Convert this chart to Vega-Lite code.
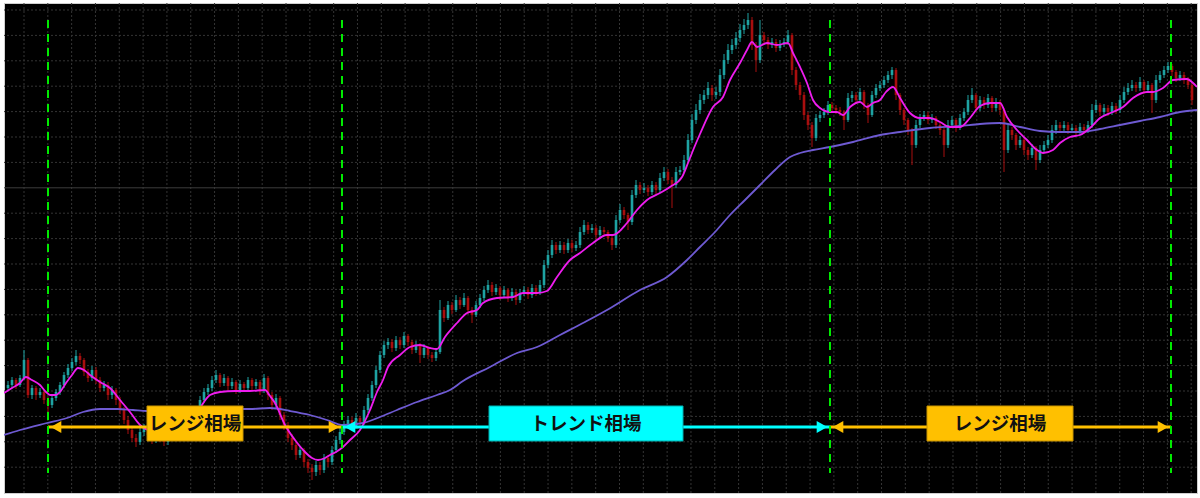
{
"$schema": "https://vega.github.io/schema/vega-lite/v6.json",
"width": 1193, "height": 490,
"autosize": {"type": "none"},
"padding": {"left": 4, "top": 3, "right": 3, "bottom": 5},
"background": "#ffffff",
"config": {"view": {"fill": "#000000", "stroke": "#cfcfcf", "strokeWidth": 1}},
"datasets": {
"candles": [
{"i":1,"o":112,"h":119,"l":109,"c":115},{"i":2,"o":115,"h":123,"l":112,"c":120},{"i":3,"o":120,"h":122,"l":111,"c":115},{"i":4,"o":115,"h":125,"l":113,"c":122},{"i":5,"o":122,"h":150,"l":120,"c":140},{"i":6,"o":140,"h":142,"l":102,"c":105},{"i":7,"o":105,"h":115,"l":101,"c":112},{"i":8,"o":112,"h":114,"l":100,"c":105},{"i":9,"o":105,"h":112,"l":102,"c":108},{"i":10,"o":108,"h":110,"l":96,"c":100},
{"i":11,"o":100,"h":103,"l":88,"c":95},{"i":12,"o":95,"h":106,"l":92,"c":102},{"i":13,"o":102,"h":111,"l":99,"c":108},{"i":14,"o":108,"h":118,"l":105,"c":115},{"i":15,"o":115,"h":128,"l":112,"c":125},{"i":16,"o":125,"h":136,"l":122,"c":132},{"i":17,"o":132,"h":142,"l":129,"c":138},{"i":18,"o":138,"h":150,"l":135,"c":144},{"i":19,"o":144,"h":147,"l":136,"c":140},{"i":20,"o":140,"h":142,"l":124,"c":128},
{"i":21,"o":128,"h":131,"l":118,"c":122},{"i":22,"o":122,"h":134,"l":119,"c":130},{"i":23,"o":130,"h":133,"l":116,"c":120},{"i":24,"o":120,"h":123,"l":108,"c":112},{"i":25,"o":112,"h":119,"l":109,"c":115},{"i":26,"o":115,"h":118,"l":100,"c":105},{"i":27,"o":105,"h":114,"l":101,"c":110},{"i":28,"o":110,"h":112,"l":95,"c":100},{"i":29,"o":100,"h":103,"l":86,"c":90},{"i":30,"o":90,"h":93,"l":76,"c":80},
{"i":31,"o":80,"h":84,"l":66,"c":70},{"i":32,"o":70,"h":74,"l":58,"c":62},{"i":33,"o":62,"h":66,"l":53,"c":58},{"i":34,"o":58,"h":72,"l":55,"c":68},{"i":35,"o":68,"h":76,"l":64,"c":72},{"i":36,"o":72,"h":75,"l":61,"c":65},{"i":37,"o":65,"h":68,"l":56,"c":60},{"i":38,"o":60,"h":74,"l":57,"c":70},{"i":39,"o":70,"h":73,"l":58,"c":62},{"i":40,"o":62,"h":65,"l":54,"c":58},
{"i":41,"o":58,"h":68,"l":55,"c":64},{"i":42,"o":64,"h":76,"l":61,"c":72},{"i":43,"o":72,"h":75,"l":62,"c":65},{"i":44,"o":65,"h":79,"l":62,"c":75},{"i":45,"o":75,"h":78,"l":66,"c":70},{"i":46,"o":70,"h":86,"l":67,"c":82},{"i":47,"o":82,"h":85,"l":76,"c":80},{"i":48,"o":80,"h":94,"l":77,"c":90},{"i":49,"o":90,"h":104,"l":87,"c":100},{"i":50,"o":100,"h":112,"l":97,"c":108},
{"i":51,"o":108,"h":116,"l":105,"c":112},{"i":52,"o":112,"h":124,"l":109,"c":120},{"i":53,"o":120,"h":130,"l":117,"c":125},{"i":54,"o":125,"h":127,"l":113,"c":117},{"i":55,"o":117,"h":126,"l":114,"c":122},{"i":56,"o":122,"h":124,"l":110,"c":114},{"i":57,"o":114,"h":122,"l":111,"c":118},{"i":58,"o":118,"h":120,"l":106,"c":110},{"i":59,"o":110,"h":120,"l":107,"c":116},{"i":60,"o":116,"h":118,"l":108,"c":112},
{"i":61,"o":112,"h":123,"l":109,"c":120},{"i":62,"o":120,"h":122,"l":110,"c":114},{"i":63,"o":114,"h":121,"l":111,"c":118},{"i":64,"o":118,"h":120,"l":105,"c":110},{"i":65,"o":110,"h":126,"l":107,"c":122},{"i":66,"o":122,"h":124,"l":100,"c":105},{"i":67,"o":105,"h":108,"l":90,"c":95},{"i":68,"o":95,"h":106,"l":92,"c":102},{"i":69,"o":102,"h":104,"l":80,"c":85},{"i":70,"o":85,"h":88,"l":70,"c":75},
{"i":71,"o":75,"h":78,"l":58,"c":62},{"i":72,"o":62,"h":66,"l":50,"c":55},{"i":73,"o":55,"h":58,"l":40,"c":45},{"i":74,"o":45,"h":54,"l":42,"c":50},{"i":75,"o":50,"h":52,"l":33,"c":38},{"i":76,"o":38,"h":41,"l":27,"c":32},{"i":77,"o":32,"h":36,"l":20,"c":28},{"i":78,"o":28,"h":39,"l":24,"c":35},{"i":79,"o":35,"h":38,"l":25,"c":30},{"i":80,"o":30,"h":46,"l":27,"c":42},
{"i":81,"o":42,"h":45,"l":33,"c":38},{"i":82,"o":38,"h":54,"l":35,"c":50},{"i":83,"o":50,"h":64,"l":47,"c":60},{"i":84,"o":60,"h":72,"l":56,"c":68},{"i":85,"o":68,"h":79,"l":65,"c":75},{"i":86,"o":75,"h":84,"l":72,"c":80},{"i":87,"o":80,"h":83,"l":70,"c":74},{"i":88,"o":74,"h":87,"l":71,"c":82},{"i":89,"o":82,"h":84,"l":74,"c":78},{"i":90,"o":78,"h":94,"l":75,"c":90},
{"i":91,"o":90,"h":106,"l":87,"c":102},{"i":92,"o":102,"h":119,"l":99,"c":115},{"i":93,"o":115,"h":134,"l":112,"c":130},{"i":94,"o":130,"h":149,"l":127,"c":145},{"i":95,"o":145,"h":159,"l":142,"c":155},{"i":96,"o":155,"h":162,"l":151,"c":158},{"i":97,"o":158,"h":161,"l":148,"c":152},{"i":98,"o":152,"h":164,"l":149,"c":160},{"i":99,"o":160,"h":163,"l":151,"c":155},{"i":100,"o":155,"h":168,"l":152,"c":164},
{"i":101,"o":164,"h":166,"l":154,"c":158},{"i":102,"o":158,"h":160,"l":146,"c":150},{"i":103,"o":150,"h":159,"l":147,"c":155},{"i":104,"o":155,"h":157,"l":137,"c":145},{"i":105,"o":145,"h":156,"l":142,"c":152},{"i":106,"o":152,"h":154,"l":141,"c":145},{"i":107,"o":145,"h":148,"l":138,"c":142},{"i":108,"o":142,"h":152,"l":139,"c":148},{"i":109,"o":148,"h":200,"l":146,"c":190},{"i":110,"o":190,"h":193,"l":178,"c":182},
{"i":111,"o":182,"h":199,"l":180,"c":195},{"i":112,"o":195,"h":198,"l":186,"c":190},{"i":113,"o":190,"h":205,"l":188,"c":200},{"i":114,"o":200,"h":203,"l":191,"c":195},{"i":115,"o":195,"h":207,"l":193,"c":202},{"i":116,"o":202,"h":204,"l":186,"c":190},{"i":117,"o":190,"h":193,"l":177,"c":185},{"i":118,"o":185,"h":199,"l":183,"c":195},{"i":119,"o":195,"h":206,"l":192,"c":202},{"i":120,"o":202,"h":214,"l":199,"c":210},
{"i":121,"o":210,"h":220,"l":207,"c":215},{"i":122,"o":215,"h":218,"l":204,"c":208},{"i":123,"o":208,"h":216,"l":205,"c":212},{"i":124,"o":212,"h":214,"l":200,"c":205},{"i":125,"o":205,"h":214,"l":202,"c":210},{"i":126,"o":210,"h":212,"l":198,"c":202},{"i":127,"o":202,"h":212,"l":199,"c":208},{"i":128,"o":208,"h":210,"l":195,"c":200},{"i":129,"o":200,"h":211,"l":197,"c":207},{"i":130,"o":207,"h":214,"l":204,"c":210},
{"i":131,"o":210,"h":213,"l":201,"c":205},{"i":132,"o":205,"h":216,"l":202,"c":212},{"i":133,"o":212,"h":215,"l":204,"c":208},{"i":134,"o":208,"h":220,"l":205,"c":215},{"i":135,"o":215,"h":240,"l":212,"c":235},{"i":136,"o":235,"h":250,"l":232,"c":245},{"i":137,"o":245,"h":260,"l":242,"c":255},{"i":138,"o":255,"h":258,"l":246,"c":250},{"i":139,"o":250,"h":259,"l":247,"c":255},{"i":140,"o":255,"h":258,"l":246,"c":250},
{"i":141,"o":250,"h":261,"l":247,"c":257},{"i":142,"o":257,"h":260,"l":248,"c":252},{"i":143,"o":252,"h":259,"l":249,"c":255},{"i":144,"o":255,"h":273,"l":252,"c":268},{"i":145,"o":268,"h":280,"l":265,"c":275},{"i":146,"o":275,"h":278,"l":266,"c":270},{"i":147,"o":270,"h":276,"l":267,"c":272},{"i":148,"o":272,"h":275,"l":261,"c":265},{"i":149,"o":265,"h":274,"l":262,"c":270},{"i":150,"o":270,"h":273,"l":264,"c":268},
{"i":151,"o":268,"h":270,"l":258,"c":262},{"i":152,"o":262,"h":265,"l":250,"c":255},{"i":153,"o":255,"h":285,"l":252,"c":280},{"i":154,"o":280,"h":296,"l":277,"c":290},{"i":155,"o":290,"h":293,"l":281,"c":285},{"i":156,"o":285,"h":287,"l":270,"c":278},{"i":157,"o":278,"h":310,"l":275,"c":305},{"i":158,"o":305,"h":320,"l":302,"c":315},{"i":159,"o":315,"h":318,"l":306,"c":310},{"i":160,"o":310,"h":317,"l":307,"c":312},
{"i":161,"o":312,"h":315,"l":304,"c":308},{"i":162,"o":308,"h":319,"l":305,"c":315},{"i":163,"o":315,"h":318,"l":306,"c":310},{"i":164,"o":310,"h":327,"l":307,"c":322},{"i":165,"o":322,"h":333,"l":319,"c":328},{"i":166,"o":328,"h":331,"l":316,"c":320},{"i":167,"o":320,"h":323,"l":292,"c":315},{"i":168,"o":315,"h":333,"l":312,"c":328},{"i":169,"o":328,"h":334,"l":325,"c":330},{"i":170,"o":330,"h":345,"l":327,"c":340},
{"i":171,"o":340,"h":366,"l":337,"c":360},{"i":172,"o":360,"h":386,"l":357,"c":380},{"i":173,"o":380,"h":396,"l":376,"c":390},{"i":174,"o":390,"h":406,"l":386,"c":400},{"i":175,"o":400,"h":410,"l":396,"c":405},{"i":176,"o":405,"h":418,"l":401,"c":412},{"i":177,"o":412,"h":415,"l":399,"c":405},{"i":178,"o":405,"h":413,"l":401,"c":408},{"i":179,"o":408,"h":431,"l":404,"c":425},{"i":180,"o":425,"h":446,"l":421,"c":440},
{"i":181,"o":440,"h":456,"l":436,"c":450},{"i":182,"o":450,"h":461,"l":446,"c":455},{"i":183,"o":455,"h":468,"l":451,"c":462},{"i":184,"o":462,"h":476,"l":458,"c":470},{"i":185,"o":470,"h":481,"l":466,"c":475},{"i":186,"o":475,"h":487,"l":471,"c":480},{"i":187,"o":480,"h":483,"l":450,"c":455},{"i":188,"o":455,"h":458,"l":428,"c":440},{"i":189,"o":440,"h":480,"l":437,"c":465},{"i":190,"o":465,"h":468,"l":455,"c":460},
{"i":191,"o":460,"h":463,"l":451,"c":455},{"i":192,"o":455,"h":462,"l":452,"c":458},{"i":193,"o":458,"h":461,"l":448,"c":452},{"i":194,"o":452,"h":460,"l":449,"c":456},{"i":195,"o":456,"h":462,"l":453,"c":458},{"i":196,"o":458,"h":470,"l":455,"c":465},{"i":197,"o":465,"h":467,"l":425,"c":430},{"i":198,"o":430,"h":433,"l":410,"c":415},{"i":199,"o":415,"h":418,"l":400,"c":405},{"i":200,"o":405,"h":408,"l":380,"c":385},
{"i":201,"o":385,"h":388,"l":370,"c":375},{"i":202,"o":375,"h":378,"l":353,"c":362},{"i":203,"o":362,"h":386,"l":359,"c":382},{"i":204,"o":382,"h":389,"l":378,"c":385},{"i":205,"o":385,"h":392,"l":382,"c":388},{"i":206,"o":388,"h":399,"l":385,"c":395},{"i":207,"o":395,"h":398,"l":388,"c":392},{"i":208,"o":392,"h":395,"l":386,"c":390},{"i":209,"o":390,"h":393,"l":384,"c":388},{"i":210,"o":388,"h":390,"l":370,"c":380},
{"i":211,"o":380,"h":407,"l":378,"c":402},{"i":212,"o":402,"h":409,"l":398,"c":405},{"i":213,"o":405,"h":408,"l":396,"c":400},{"i":214,"o":400,"h":412,"l":397,"c":408},{"i":215,"o":408,"h":410,"l":391,"c":395},{"i":216,"o":395,"h":397,"l":377,"c":385},{"i":217,"o":385,"h":409,"l":383,"c":405},{"i":218,"o":405,"h":416,"l":402,"c":412},{"i":219,"o":412,"h":419,"l":409,"c":415},{"i":220,"o":415,"h":424,"l":412,"c":420},
{"i":221,"o":420,"h":429,"l":417,"c":425},{"i":222,"o":425,"h":433,"l":421,"c":430},{"i":223,"o":430,"h":432,"l":400,"c":405},{"i":224,"o":405,"h":407,"l":385,"c":390},{"i":225,"o":390,"h":392,"l":375,"c":380},{"i":226,"o":380,"h":382,"l":365,"c":370},{"i":227,"o":370,"h":372,"l":335,"c":355},{"i":228,"o":355,"h":380,"l":352,"c":375},{"i":229,"o":375,"h":386,"l":372,"c":382},{"i":230,"o":382,"h":389,"l":379,"c":385},
{"i":231,"o":385,"h":388,"l":376,"c":380},{"i":232,"o":380,"h":386,"l":377,"c":382},{"i":233,"o":382,"h":384,"l":371,"c":375},{"i":234,"o":375,"h":378,"l":365,"c":370},{"i":235,"o":370,"h":372,"l":343,"c":355},{"i":236,"o":355,"h":380,"l":352,"c":375},{"i":237,"o":375,"h":384,"l":372,"c":380},{"i":238,"o":380,"h":382,"l":368,"c":372},{"i":239,"o":372,"h":386,"l":370,"c":382},{"i":240,"o":382,"h":392,"l":379,"c":388},
{"i":241,"o":388,"h":405,"l":385,"c":400},{"i":242,"o":400,"h":412,"l":397,"c":405},{"i":243,"o":405,"h":407,"l":388,"c":392},{"i":244,"o":392,"h":404,"l":389,"c":400},{"i":245,"o":400,"h":403,"l":391,"c":395},{"i":246,"o":395,"h":406,"l":392,"c":402},{"i":247,"o":402,"h":404,"l":388,"c":392},{"i":248,"o":392,"h":402,"l":389,"c":398},{"i":249,"o":398,"h":400,"l":385,"c":390},{"i":250,"o":390,"h":392,"l":328,"c":350},
{"i":251,"o":350,"h":375,"l":347,"c":370},{"i":252,"o":370,"h":373,"l":360,"c":365},{"i":253,"o":365,"h":367,"l":350,"c":355},{"i":254,"o":355,"h":364,"l":352,"c":360},{"i":255,"o":360,"h":362,"l":345,"c":350},{"i":256,"o":350,"h":353,"l":340,"c":345},{"i":257,"o":345,"h":356,"l":342,"c":352},{"i":258,"o":352,"h":354,"l":330,"c":340},{"i":259,"o":340,"h":355,"l":337,"c":350},{"i":260,"o":350,"h":359,"l":347,"c":355},
{"i":261,"o":355,"h":365,"l":352,"c":360},{"i":262,"o":360,"h":375,"l":357,"c":370},{"i":263,"o":370,"h":380,"l":366,"c":375},{"i":264,"o":375,"h":378,"l":368,"c":372},{"i":265,"o":372,"h":379,"l":369,"c":375},{"i":266,"o":375,"h":378,"l":366,"c":370},{"i":267,"o":370,"h":376,"l":367,"c":372},{"i":268,"o":372,"h":375,"l":364,"c":368},{"i":269,"o":368,"h":377,"l":365,"c":373},{"i":270,"o":373,"h":376,"l":366,"c":370},
{"i":271,"o":370,"h":379,"l":367,"c":375},{"i":272,"o":375,"h":396,"l":372,"c":390},{"i":273,"o":390,"h":400,"l":387,"c":395},{"i":274,"o":395,"h":397,"l":384,"c":388},{"i":275,"o":388,"h":396,"l":385,"c":392},{"i":276,"o":392,"h":395,"l":384,"c":388},{"i":277,"o":388,"h":398,"l":385,"c":394},{"i":278,"o":394,"h":397,"l":386,"c":390},{"i":279,"o":390,"h":405,"l":387,"c":400},{"i":280,"o":400,"h":413,"l":397,"c":408},
{"i":281,"o":408,"h":417,"l":405,"c":412},{"i":282,"o":412,"h":420,"l":409,"c":415},{"i":283,"o":415,"h":418,"l":408,"c":412},{"i":284,"o":412,"h":423,"l":409,"c":418},{"i":285,"o":418,"h":420,"l":406,"c":410},{"i":286,"o":410,"h":419,"l":407,"c":415},{"i":287,"o":415,"h":417,"l":387,"c":400},{"i":288,"o":400,"h":425,"l":397,"c":420},{"i":289,"o":420,"h":429,"l":417,"c":425},{"i":290,"o":425,"h":434,"l":422,"c":430},
{"i":291,"o":430,"h":438,"l":427,"c":434},{"i":292,"o":434,"h":436,"l":424,"c":428},{"i":293,"o":428,"h":430,"l":418,"c":422},{"i":294,"o":422,"h":429,"l":419,"c":425},{"i":295,"o":425,"h":428,"l":416,"c":420},{"i":296,"o":420,"h":423,"l":411,"c":415},{"i":297,"o":415,"h":418,"l":395,"c":400}
],
"ma": [
{"i":0,"p":107},{"i":2,"p":112},{"i":4,"p":117},{"i":5.5,"p":123},{"i":7,"p":120},{"i":9,"p":115},{"i":10.5,"p":108},{"i":11.5,"p":105},{"i":13,"p":105},{"i":14,"p":108},{"i":15.5,"p":117},{"i":17,"p":125},{"i":18.5,"p":132},{"i":20,"p":130},{"i":21.5,"p":125},{"i":24,"p":118},{"i":26.5,"p":112},{"i":29,"p":100},{"i":31.5,"p":88},{"i":34,"p":75},{"i":36.5,"p":70},{"i":39,"p":72},{"i":41.5,"p":70},{"i":44,"p":72},{"i":46,"p":76},{"i":47.75,"p":82},{"i":49.5,"p":95},{"i":51.5,"p":105},{"i":54,"p":108},{"i":57.75,"p":109},{"i":61.5,"p":109},{"i":65.25,"p":110},{"i":66.5,"p":104},{"i":67.75,"p":97},{"i":70.25,"p":75},{"i":72.75,"p":60},{"i":75.25,"p":48},{"i":77,"p":42},{"i":78.5,"p":40},{"i":80.25,"p":42},{"i":81.5,"p":45},{"i":83,"p":48},{"i":84.75,"p":53},{"i":86.5,"p":60},{"i":89,"p":70},{"i":91.5,"p":90},{"i":93.25,"p":108},{"i":94.75,"p":120},{"i":96,"p":133},{"i":99,"p":145},{"i":101.5,"p":153},{"i":104,"p":155},{"i":106.5,"p":152},{"i":108.25,"p":151},{"i":110.25,"p":163},{"i":113.25,"p":177},{"i":115.75,"p":187},{"i":118.25,"p":190},{"i":119.75,"p":197},{"i":123.25,"p":202},{"i":127.25,"p":203},{"i":129.75,"p":207},{"i":133.25,"p":207},{"i":135.75,"p":209},{"i":138.25,"p":223},{"i":141.5,"p":240},{"i":144,"p":247},{"i":147.25,"p":257},{"i":150.75,"p":265},{"i":152.25,"p":265},{"i":155.75,"p":277},{"i":158.25,"p":290},{"i":160.75,"p":300},{"i":164,"p":307},{"i":166.5,"p":313},{"i":169.5,"p":323},{"i":171,"p":337},{"i":172.5,"p":352},{"i":174,"p":366},{"i":177.25,"p":393},{"i":179.75,"p":403},{"i":181.5,"p":420},{"i":184,"p":437},{"i":185.75,"p":450},{"i":187,"p":458},{"i":188.25,"p":453},{"i":190.75,"p":457},{"i":193.25,"p":455},{"i":196,"p":457},{"i":197.25,"p":447},{"i":199,"p":433},{"i":200.75,"p":417},{"i":202.25,"p":400},{"i":204,"p":392},{"i":206.5,"p":388},{"i":208.25,"p":388},{"i":209.75,"p":385},{"i":211.5,"p":393},{"i":214,"p":398},{"i":215.75,"p":393},{"i":217.25,"p":397},{"i":219,"p":400},{"i":220.5,"p":408},{"i":222.25,"p":413},{"i":224,"p":402},{"i":226.5,"p":387},{"i":229,"p":382},{"i":231.5,"p":382},{"i":234,"p":378},{"i":236.5,"p":373},{"i":239,"p":373},{"i":241.5,"p":382},{"i":244,"p":394},{"i":246.5,"p":397},{"i":249,"p":397},{"i":250.75,"p":383},{"i":253.25,"p":370},{"i":255.75,"p":360},{"i":258.25,"p":350},{"i":259.75,"p":347},{"i":262.25,"p":350},{"i":264,"p":357},{"i":266.5,"p":363},{"i":269,"p":365},{"i":271.5,"p":372},{"i":274,"p":382},{"i":277.25,"p":388},{"i":279.75,"p":393},{"i":282.25,"p":402},{"i":285.75,"p":408},{"i":287.25,"p":408},{"i":289.75,"p":412},{"i":292.25,"p":420},{"i":295.75,"p":421},{"i":297.25,"p":417},{"i":298.25,"p":413}
],
"lma": [
{"i":0,"p":65},{"i":4,"p":70},{"i":10.75,"p":77},{"i":15.75,"p":82},{"i":19.75,"p":88},{"i":24,"p":91},{"i":28.25,"p":91},{"i":32.25,"p":90},{"i":35.75,"p":89},{"i":41.5,"p":89},{"i":49,"p":90},{"i":56.5,"p":91},{"i":61.5,"p":91},{"i":66.5,"p":92},{"i":71.5,"p":89},{"i":76.5,"p":85},{"i":80.75,"p":80},{"i":84.75,"p":75},{"i":89.75,"p":77},{"i":94,"p":83},{"i":98.25,"p":90},{"i":103.25,"p":98},{"i":108.25,"p":105},{"i":111.5,"p":110},{"i":114.75,"p":119},{"i":121.5,"p":133},{"i":128.25,"p":147},{"i":133.25,"p":153},{"i":139,"p":165},{"i":145.25,"p":178},{"i":150.75,"p":190},{"i":159,"p":210},{"i":165.75,"p":223},{"i":170.75,"p":240},{"i":174,"p":253},{"i":177.75,"p":268},{"i":181.5,"p":285},{"i":185.25,"p":300},{"i":189,"p":315},{"i":192.75,"p":330},{"i":196.5,"p":343},{"i":199,"p":347},{"i":202.25,"p":350},{"i":206.5,"p":353},{"i":212.25,"p":358},{"i":219,"p":365},{"i":224,"p":368},{"i":231.5,"p":372},{"i":239,"p":374},{"i":244,"p":376},{"i":249,"p":377},{"i":254,"p":373},{"i":259,"p":369},{"i":264,"p":368},{"i":269,"p":368},{"i":274,"p":371},{"i":279,"p":375},{"i":284,"p":379},{"i":289,"p":383},{"i":294,"p":388},{"i":298.25,"p":390}
],
"gx": [{"i":5},{"i":10.955},{"i":16.91},{"i":22.865},{"i":28.82},{"i":34.775},{"i":40.73},{"i":46.685},{"i":52.64},{"i":58.595},{"i":64.55},{"i":70.505},{"i":76.46},{"i":82.415},{"i":88.37},{"i":94.325},{"i":100.28},{"i":106.235},{"i":112.19},{"i":118.145},{"i":124.1},{"i":130.055},{"i":136.01},{"i":141.965},{"i":147.92},{"i":153.875},{"i":159.83},{"i":165.785},{"i":171.74},{"i":177.695},{"i":183.65},{"i":189.605},{"i":195.56},{"i":201.515},{"i":207.47},{"i":213.425},{"i":219.38},{"i":225.335},{"i":231.29},{"i":237.245},{"i":243.2},{"i":249.155},{"i":255.11},{"i":261.065},{"i":267.02},{"i":272.975},{"i":278.93},{"i":284.885},{"i":290.84},{"i":296.795}],
"gy": [{"p":490},{"p":464.6},{"p":439.2},{"p":413.8},{"p":388.4},{"p":363},{"p":337.6},{"p":286.8},{"p":261.4},{"p":236},{"p":210.6},{"p":185.2},{"p":159.8},{"p":134.4},{"p":109},{"p":83.6},{"p":58.2},{"p":32.8}],
"vlines": [{"i":11},{"i":84.5},{"i":206.5},{"i":291.75}],
"arrows": [
{"a":11,"b":84.5,"phase":"range"},{"a":84.5,"b":206.5,"phase":"trend"},{"a":206.5,"b":291.75,"phase":"range"}
],
"heads": [
{"i":13,"dir":"left","phase":"range"},{"i":82.5,"dir":"right","phase":"range"},
{"i":86.5,"dir":"left","phase":"trend"},{"i":204.5,"dir":"right","phase":"trend"},
{"i":208.5,"dir":"left","phase":"range"},{"i":289.75,"dir":"right","phase":"range"}
],
"labels": [
{"a":35.75,"b":59.75,"m":47.75,"t":"レンジ相場","phase":"range"},
{"a":121.25,"b":169.75,"m":145.5,"t":"トレンド相場","phase":"trend"},
{"a":230.75,"b":267.25,"m":249,"t":"レンジ相場","phase":"range"}
]
},
"layer": [
{
"data": {"name": "gx"},
"mark": {"type": "rule", "color": "#343434", "strokeWidth": 1, "strokeDash": [2, 2]},
"encoding": {
"x": {"field": "i", "type": "quantitative", "scale": {"domain": [0, 298.25], "nice": false, "zero": false, "padding": 0}, "axis": null}
}
},
{
"data": {"name": "gy"},
"mark": {"type": "rule", "color": "#343434", "strokeWidth": 1, "strokeDash": [2, 2]},
"encoding": {
"y": {"field": "p", "type": "quantitative", "scale": {"domain": [7, 497], "nice": false, "zero": false, "padding": 0}, "axis": null}
}
},
{
"data": {"values": [{"p": 312.2}]},
"mark": {"type": "rule", "color": "#3c3c3c", "strokeWidth": 1},
"encoding": {"y": {"field": "p", "type": "quantitative", "scale": {"domain": [7, 497], "nice": false, "zero": false, "padding": 0}, "axis": null}}
},
{
"data": {"name": "candles"},
"mark": {"type": "rule", "strokeWidth": 1, "clip": true},
"encoding": {
"x": {"field": "i", "type": "quantitative", "scale": {"domain": [0, 298.25], "nice": false, "zero": false, "padding": 0}, "axis": null},
"y": {"field": "l", "type": "quantitative", "scale": {"domain": [7, 497], "nice": false, "zero": false, "padding": 0}, "axis": null},
"y2": {"field": "h"},
"color": {"condition": {"test": "datum.c >= datum.o", "value": "#1ea3a3"}, "value": "#a80e0e"}
}
},
{
"data": {"name": "candles"},
"mark": {"type": "bar", "size": 2.6, "clip": true},
"encoding": {
"x": {"field": "i", "type": "quantitative", "scale": {"domain": [0, 298.25], "nice": false, "zero": false, "padding": 0}, "axis": null},
"y": {"field": "o", "type": "quantitative", "scale": {"domain": [7, 497], "nice": false, "zero": false, "padding": 0}, "axis": null},
"y2": {"field": "c"},
"color": {"condition": {"test": "datum.c >= datum.o", "value": "#1ea3a3"}, "value": "#a80e0e"}
}
},
{
"data": {"name": "lma"},
"mark": {"type": "line", "color": "#6e5ad2", "strokeWidth": 1.8, "interpolate": "monotone", "clip": true},
"encoding": {
"x": {"field": "i", "type": "quantitative", "scale": {"domain": [0, 298.25], "nice": false, "zero": false, "padding": 0}, "axis": null},
"y": {"field": "p", "type": "quantitative", "scale": {"domain": [7, 497], "nice": false, "zero": false, "padding": 0}, "axis": null}
}
},
{
"data": {"name": "ma"},
"mark": {"type": "line", "color": "#ee1cee", "strokeWidth": 1.8, "interpolate": "monotone", "clip": true},
"encoding": {
"x": {"field": "i", "type": "quantitative", "scale": {"domain": [0, 298.25], "nice": false, "zero": false, "padding": 0}, "axis": null},
"y": {"field": "p", "type": "quantitative", "scale": {"domain": [7, 497], "nice": false, "zero": false, "padding": 0}, "axis": null}
}
},
{
"data": {"name": "arrows"},
"mark": {"type": "rule", "strokeWidth": 3},
"encoding": {
"x": {"field": "a", "type": "quantitative", "scale": {"domain": [0, 298.25], "nice": false, "zero": false, "padding": 0}, "axis": null},
"x2": {"field": "b"},
"y": {"datum": 73, "type": "quantitative", "scale": {"domain": [7, 497], "nice": false, "zero": false, "padding": 0}, "axis": null},
"color": {"field": "phase", "type": "nominal", "scale": {"domain": ["range", "trend"], "range": ["#ffc000", "#00ffff"]}, "legend": null}
}
},
{
"data": {"name": "vlines"},
"mark": {"type": "rule", "color": "#00ea00", "strokeWidth": 2, "strokeDash": [8, 6]},
"encoding": {
"x": {"field": "i", "type": "quantitative", "scale": {"domain": [0, 298.25], "nice": false, "zero": false, "padding": 0}, "axis": null},
"y": {"datum": 480, "type": "quantitative", "scale": {"domain": [7, 497], "nice": false, "zero": false, "padding": 0}, "axis": null},
"y2": {"datum": 27}
}
},
{
"data": {"name": "heads"},
"mark": {"type": "point", "filled": true, "opacity": 1, "size": 150},
"encoding": {
"x": {"field": "i", "type": "quantitative", "scale": {"domain": [0, 298.25], "nice": false, "zero": false, "padding": 0}, "axis": null},
"y": {"datum": 73, "type": "quantitative", "scale": {"domain": [7, 497], "nice": false, "zero": false, "padding": 0}, "axis": null},
"shape": {"field": "dir", "type": "nominal", "scale": {"domain": ["left", "right"], "range": ["triangle-left", "triangle-right"]}, "legend": null},
"color": {"field": "phase", "type": "nominal", "scale": {"domain": ["range", "trend"], "range": ["#ffc000", "#00ffff"]}, "legend": null}
}
},
{
"data": {"name": "labels"},
"mark": {"type": "rect", "strokeWidth": 1},
"encoding": {
"x": {"field": "a", "type": "quantitative", "scale": {"domain": [0, 298.25], "nice": false, "zero": false, "padding": 0}, "axis": null},
"x2": {"field": "b"},
"y": {"datum": 59, "type": "quantitative", "scale": {"domain": [7, 497], "nice": false, "zero": false, "padding": 0}, "axis": null},
"y2": {"datum": 94},
"color": {"field": "phase", "type": "nominal", "scale": {"domain": ["range", "trend"], "range": ["#ffc000", "#00ffff"]}, "legend": null},
"stroke": {"field": "phase", "type": "nominal", "scale": {"domain": ["range", "trend"], "range": ["#c89400", "#00b0b0"]}, "legend": null}
}
},
{
"data": {"name": "labels"},
"mark": {"type": "text", "font": "Noto Sans CJK JP", "fontWeight": "bold", "fontSize": 18.5, "color": "#111111", "align": "center", "baseline": "middle"},
"encoding": {
"x": {"field": "m", "type": "quantitative", "scale": {"domain": [0, 298.25], "nice": false, "zero": false, "padding": 0}, "axis": null},
"y": {"datum": 76.5, "type": "quantitative", "scale": {"domain": [7, 497], "nice": false, "zero": false, "padding": 0}, "axis": null},
"text": {"field": "t"}
}
}
]
}
